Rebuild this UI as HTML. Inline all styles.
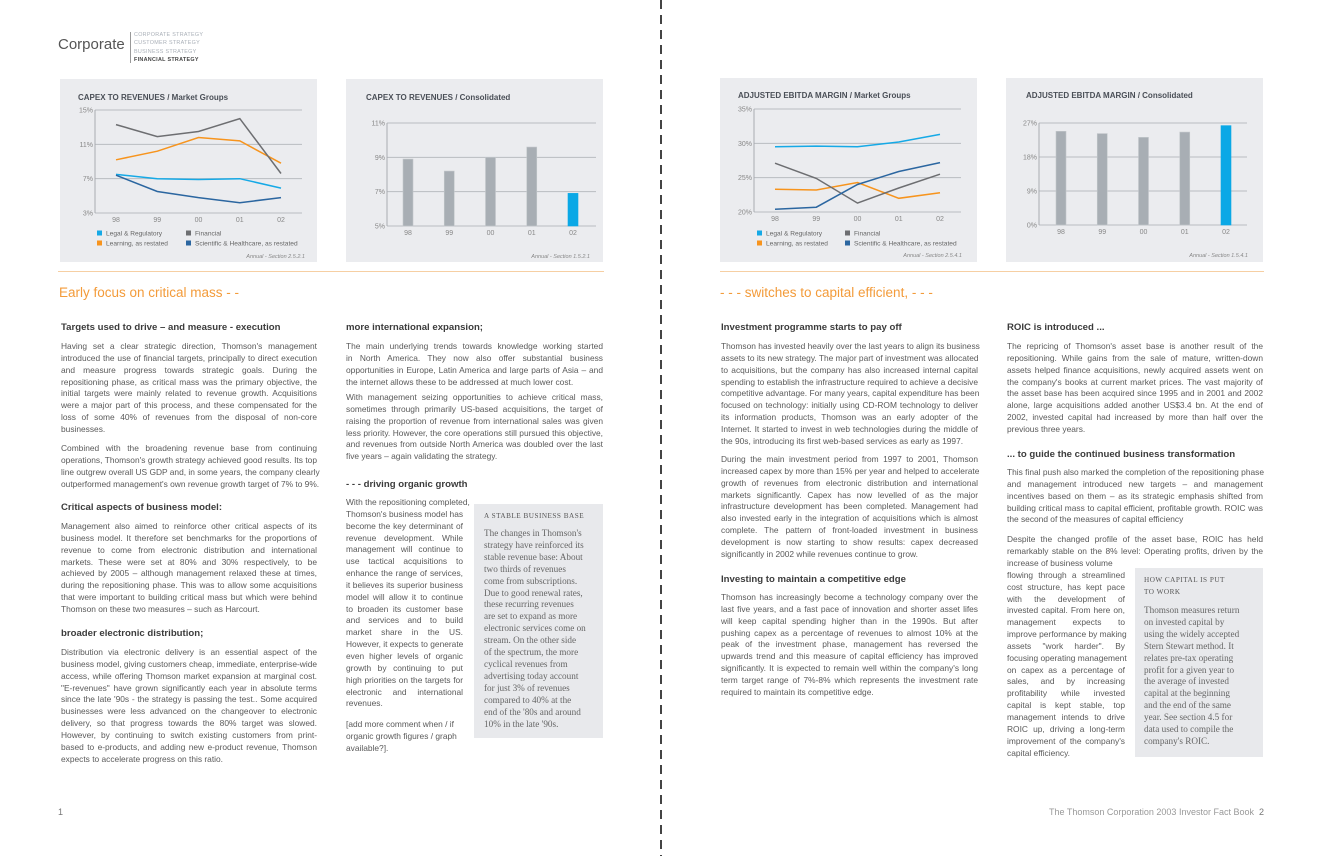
<!DOCTYPE html>
<html><head><meta charset="utf-8">
<style>
*{margin:0;padding:0;box-sizing:border-box}
body{width:1322px;height:856px;background:#fff;position:relative;overflow:hidden;font-family:"Liberation Sans",sans-serif;color:#5a5a5a}
.abs{position:absolute}
.panel{position:absolute;background:#ebecef}
.h{position:absolute;font-size:9.6px;font-weight:bold;color:#3c3c3c;white-space:nowrap}
.p{position:absolute;font-size:8.4px;line-height:11.85px;color:#5a5a5a}
.p div{text-align:justify;text-align-last:justify;white-space:nowrap;overflow:visible;height:11.85px}
.p div.e{text-align-last:left}
.side{position:absolute;background:#e8e9ec;font-family:"Liberation Serif",serif;color:#666}
.side .t{position:absolute;font-size:7.2px;letter-spacing:0.5px;line-height:12px;color:#555}
.side .b{position:absolute;font-size:9.2px;line-height:11.9px;white-space:nowrap}
.orange{position:absolute;font-size:13.5px;color:#f39b3a}
</style></head><body>

<div class="abs" style="left:58px;top:36px;font-size:15px;color:#555">Corporate</div>
<div class="abs" style="left:130px;top:32px;width:1px;height:31px;background:#999"></div>
<div class="abs" style="left:134px;top:31px;font-size:5.4px;line-height:8.3px;color:#aab0b8;letter-spacing:0.3px">
<div>CORPORATE STRATEGY</div>
<div>CUSTOMER STRATEGY</div>
<div>BUSINESS STRATEGY</div>
<div style="color:#444;font-weight:bold">FINANCIAL STRATEGY</div>
</div>

<div class="abs" style="left:660px;top:0;width:2px;height:856px;background:repeating-linear-gradient(to bottom,#444 0,#444 9px,transparent 9px,transparent 15px)"></div>

<div class="panel" style="left:60px;top:79px;width:257px;height:183px"></div>
<div class="panel" style="left:346px;top:79px;width:257px;height:183px"></div>
<div class="panel" style="left:720px;top:78px;width:257px;height:184px"></div>
<div class="panel" style="left:1006px;top:78px;width:257px;height:184px"></div>

<svg id="charts" class="abs" style="left:0;top:0" width="1322" height="856" xmlns="http://www.w3.org/2000/svg"></svg>

<div class="abs" style="left:58px;top:271px;width:546px;height:1px;background:#f6cfa3"></div>
<div class="abs" style="left:720px;top:271px;width:544px;height:1px;background:#f6cfa3"></div>
<div class="orange" style="left:59px;top:285px">Early focus on critical mass - -</div>
<div class="orange" style="left:720px;top:285px">- - - switches to capital efficient, - - -</div>

<!-- left col1 -->
<div class="h" style="left:61px;top:322px">Targets used to drive – and measure - execution</div>
<div class="p" style="left:61px;top:341px;width:256px">
<div>Having set a clear strategic direction, Thomson's management</div>
<div>introduced the use of financial targets, principally to direct execution</div>
<div>and measure progress towards strategic goals. During the</div>
<div>repositioning phase, as critical mass was the primary objective, the</div>
<div>initial targets were mainly related to revenue growth. Acquisitions</div>
<div>were a major part of this process, and these compensated for the</div>
<div>loss of some 40% of revenues from the disposal of non-core</div>
<div class="e">businesses.</div></div>
<div class="p" style="left:61px;top:443px;width:256px">
<div>Combined with the broadening revenue base from continuing</div>
<div>operations, Thomson's growth strategy achieved good results. Its top</div>
<div>line outgrew overall US GDP and, in some years, the company clearly</div>
<div class="e">outperformed management's own revenue growth target of 7% to 9%.</div></div>
<div class="h" style="left:61px;top:502px">Critical aspects of business model:</div>
<div class="p" style="left:61px;top:521px;width:256px">
<div>Management also aimed to reinforce other critical aspects of its</div>
<div>business model. It therefore set benchmarks for the proportions of</div>
<div>revenue to come from electronic distribution and international</div>
<div>markets. These were set at 80% and 30% respectively, to be</div>
<div>achieved by 2005 – although management relaxed these at times,</div>
<div>during the repositioning phase. This was to allow some acquisitions</div>
<div>that were important to building critical mass but which were behind</div>
<div class="e">Thomson on these two measures – such as Harcourt.</div></div>
<div class="h" style="left:61px;top:628px">broader electronic distribution;</div>
<div class="p" style="left:61px;top:647px;width:256px">
<div>Distribution via electronic delivery is an essential aspect of the</div>
<div>business model, giving customers cheap, immediate, enterprise-wide</div>
<div>access, while offering Thomson market expansion at marginal cost.</div>
<div>"E-revenues" have grown significantly each year in absolute terms</div>
<div>since the late '90s - the strategy is passing the test.. Some acquired</div>
<div>businesses were less advanced on the changeover to electronic</div>
<div>delivery, so that progress towards the 80% target was slowed.</div>
<div>However, by continuing to switch existing customers from print-</div>
<div>based to e-products, and adding new e-product revenue, Thomson</div>
<div class="e">expects to accelerate progress on this ratio.</div></div>

<!-- left col2 -->
<div class="h" style="left:346px;top:322px">more international expansion;</div>
<div class="p" style="left:346px;top:341px;width:257px">
<div>The main underlying trends towards knowledge working started</div>
<div>in North America. They now also offer substantial business</div>
<div>opportunities in Europe, Latin America and large parts of Asia – and</div>
<div class="e">the internet allows these to be addressed at much lower cost.</div></div>
<div class="p" style="left:346px;top:392px;width:257px">
<div>With management seizing opportunities to achieve critical mass,</div>
<div>sometimes through primarily US-based acquisitions, the target of</div>
<div>raising the proportion of revenue from international sales was given</div>
<div>less priority. However, the core operations still pursued this objective,</div>
<div>and revenues from outside North America was doubled over the last</div>
<div class="e">five years – again validating the strategy.</div></div>
<div class="h" style="left:346px;top:479px">- - - driving organic growth</div>
<div class="p" style="left:346px;top:497px;width:117px">
<div>With the repositioning completed,</div>
<div>Thomson's business model has</div>
<div>become the key determinant of</div>
<div>revenue development. While</div>
<div>management will continue to</div>
<div>use tactical acquisitions to</div>
<div>enhance the range of services,</div>
<div>it believes its superior business</div>
<div>model will allow it to continue</div>
<div>to broaden its customer base</div>
<div>and services and to build</div>
<div>market share in the US.</div>
<div>However, it expects to generate</div>
<div>even higher levels of organic</div>
<div>growth by continuing to put</div>
<div>high priorities on the targets for</div>
<div>electronic and international</div>
<div class="e">revenues.</div></div>
<div class="p" style="left:346px;top:719px;width:117px">
<div class="e">[add more comment when / if</div>
<div class="e">organic growth figures / graph</div>
<div class="e">available?].</div></div>
<div class="side" style="left:474px;top:504px;width:129px;height:234px">
<div class="t" style="left:10px;top:6px">A STABLE BUSINESS BASE</div>
<div class="b" style="left:10px;top:24px">The changes in Thomson's<br>strategy have reinforced its<br>stable revenue base: About<br>two thirds of revenues<br>come from subscriptions.<br>Due to good renewal rates,<br>these recurring revenues<br>are set to expand as more<br>electronic services come on<br>stream. On the other side<br>of the spectrum, the more<br>cyclical revenues from<br>advertising today account<br>for just 3% of revenues<br>compared to 40% at the<br>end of the '80s and around<br>10% in the late '90s.</div></div>

<!-- right col1 -->
<div class="h" style="left:721px;top:322px">Investment programme starts to pay off</div>
<div class="p" style="left:721px;top:341px;width:257px">
<div>Thomson has invested heavily over the last years to align its business</div>
<div>assets to its new strategy. The major part of investment was allocated</div>
<div>to acquisitions, but the company has also increased internal capital</div>
<div>spending to establish the infrastructure required to achieve a decisive</div>
<div>competitive advantage. For many years, capital expenditure has been</div>
<div>focused on technology: initially using CD-ROM technology to deliver</div>
<div>its information products, Thomson was an early adopter of the</div>
<div>Internet. It started to invest in web technologies during the middle of</div>
<div class="e">the 90s, introducing its first web-based services as early as 1997.</div></div>
<div class="p" style="left:721px;top:454px;width:257px">
<div>During the main investment period from 1997 to 2001, Thomson</div>
<div>increased capex by more than 15% per year and helped to accelerate</div>
<div>growth of revenues from electronic distribution and international</div>
<div>markets significantly. Capex has now levelled of as the major</div>
<div>infrastructure development has been completed. Management had</div>
<div>also invested early in the integration of acquisitions which is almost</div>
<div>complete. The pattern of front-loaded investment in business</div>
<div>development is now starting to show results: capex decreased</div>
<div class="e">significantly in 2002 while revenues continue to grow.</div></div>
<div class="h" style="left:721px;top:574px">Investing to maintain a competitive edge</div>
<div class="p" style="left:721px;top:592px;width:257px">
<div>Thomson has increasingly become a technology company over the</div>
<div>last five years, and a fast pace of innovation and shorter asset lifes</div>
<div>will keep capital spending higher than in the 1990s. But after</div>
<div>pushing capex as a percentage of revenues to almost 10% at the</div>
<div>peak of the investment phase, management has reversed the</div>
<div>upwards trend and this measure of capital efficiency has improved</div>
<div>significantly. It is expected to remain well within the company's long</div>
<div>term target range of 7%-8% which represents the investment rate</div>
<div class="e">required to maintain its competitive edge.</div></div>

<!-- right col2 -->
<div class="h" style="left:1007px;top:322px">ROIC is introduced ...</div>
<div class="p" style="left:1007px;top:341px;width:256px">
<div>The repricing of Thomson's asset base is another result of the</div>
<div>repositioning. While gains from the sale of mature, written-down</div>
<div>assets helped finance acquisitions, newly acquired assets went on</div>
<div>the company's books at current market prices. The vast majority of</div>
<div>the asset base has been acquired since 1995 and in 2001 and 2002</div>
<div>alone, large acquisitions added another US$3.4 bn. At the end of</div>
<div>2002, invested capital had increased by more than half over the</div>
<div class="e">previous three years.</div></div>
<div class="h" style="left:1007px;top:449px">... to guide the continued business transformation</div>
<div class="p" style="left:1007px;top:467px;width:256px">
<div>This final push also marked the completion of the repositioning phase</div>
<div>and management introduced new targets – and management</div>
<div>incentives based on them – as its strategic emphasis shifted from</div>
<div>building critical mass to capital efficient, profitable growth. ROIC was</div>
<div class="e">the second of the measures of capital efficiency</div></div>
<div class="p" style="left:1007px;top:534px;width:256px">
<div>Despite the changed profile of the asset base, ROIC has held</div>
<div>remarkably stable on the 8% level: Operating profits, driven by the</div></div>
<div class="p" style="left:1007px;top:558px;width:118px">
<div class="e">increase of business volume</div>
<div>flowing through a streamlined</div>
<div>cost structure, has kept pace</div>
<div>with the development of</div>
<div>invested capital. From here on,</div>
<div>management expects to</div>
<div>improve performance by making</div>
<div>assets "work harder". By</div>
<div>focusing operating management</div>
<div>on capex as a percentage of</div>
<div>sales, and by increasing</div>
<div>profitability while invested</div>
<div>capital is kept stable, top</div>
<div>management intends to drive</div>
<div>ROIC up, driving a long-term</div>
<div>improvement of the company's</div>
<div class="e">capital efficiency.</div></div>
<div class="side" style="left:1135px;top:568px;width:128px;height:189px">
<div class="t" style="left:9px;top:6px">HOW CAPITAL IS PUT<br>TO WORK</div>
<div class="b" style="left:9px;top:37px">Thomson measures return<br>on invested capital by<br>using the widely accepted<br>Stern Stewart method. It<br>relates pre-tax operating<br>profit for a given year to<br>the average of invested<br>capital at the beginning<br>and the end of the same<br>year. See section 4.5 for<br>data used to compile the<br>company's ROIC.</div></div>

<div class="abs" style="left:58px;top:807px;font-size:9px;color:#777">1</div>
<div class="abs" style="left:1000px;top:807px;width:264px;text-align:right;font-size:9px;color:#999;white-space:nowrap">The Thomson Corporation 2003 Investor Fact Book&nbsp;&nbsp;<span style="color:#777">2</span></div>

<script>
// ---- data ----
const years = ["98","99","00","01","02"];
const seriesNames = ["Legal & Regulatory","Learning, as restated","Financial","Scientific & Healthcare, as restated"];
const capexTicks = ["15%","11%","7%","3%"];
const capexTickValues = [15,11,7,3];
const capexLegal = [7.5,7.0,6.9,7.0,5.9];
const capexLearning = [9.2,10.2,11.8,11.4,8.8];
const capexFinancial = [13.3,11.9,12.5,14.0,7.6];
const capexScientific = [7.4,5.5,4.8,4.2,4.8];
const capexConsTicks = ["11%","9%","7%","5%"];
const capexConsTickValues = [11,9,7,5];
const capexConsolidated = [8.9,8.2,9.0,9.6,6.9];
const ebitdaTicks = ["35%","30%","25%","20%"];
const ebitdaTickValues = [35,30,25,20];
const ebitdaLegal = [29.5,29.6,29.5,30.2,31.3];
const ebitdaLearning = [23.3,23.2,24.3,22.0,22.8];
const ebitdaFinancial = [27.1,24.9,21.3,23.5,25.5];
const ebitdaScientific = [20.4,20.7,24.0,25.9,27.2];
const ebitdaConsTicks = ["27%","18%","9%","0%"];
const ebitdaConsTickValues = [27,18,9,0];
const ebitdaConsolidated = [24.8,24.2,23.2,24.6,26.3];

const colors = ["#15a9e6","#f7941d","#6d6e71","#2b66a0"];
const NS = "http://www.w3.org/2000/svg";
const svg = document.getElementById("charts");
function mk(tag, attrs, text){
  const e = document.createElementNS(NS, tag);
  for (const k in attrs) e.setAttribute(k, attrs[k]);
  if (text !== undefined) e.textContent = text;
  svg.appendChild(e);
  return e;
}
function frame(c, ticks, tickVals){
  const t = mk("text",{x:c.tx,y:c.ty,"font-family":"Liberation Sans Narrow, Liberation Sans, sans-serif","font-size":8,"font-weight":"bold",fill:"#4a4f57"},c.title);
  
  
  const yS = v => c.y1 + (c.vmax - v) / (c.vmax - c.vmin) * (c.y0 - c.y1);
  tickVals.forEach((v,i)=>{
    const g = mk("line",{x1:c.l,x2:c.r,y1:yS(v),y2:yS(v),stroke:"#b9bcc1","stroke-width":1});
    
    
    const lb = mk("text",{x:c.l-2,y:yS(v)+2.5,"text-anchor":"end","font-size":7,fill:"#888","font-family":"Liberation Sans Narrow, Liberation Sans, sans-serif"},ticks[i]);
    
    
  });
  const ax = mk("line",{x1:c.l,x2:c.l,y1:c.y1,y2:c.y0,stroke:"#a8abb0","stroke-width":1});
  
  
  const xS = i => c.x0 + i * (c.x4 - c.x0) / (years.length - 1);
  years.forEach((y,i)=>{
    const lb = mk("text",{x:xS(i),y:c.y0+9,"text-anchor":"middle","font-size":7,fill:"#888","font-family":"Liberation Sans Narrow, Liberation Sans, sans-serif"},y);
    
    
  });
  const src = mk("text",{x:c.sx,y:c.sy,"text-anchor":"end","font-size":5.5,"font-style":"italic",fill:"#888"},c.source);
  
  
  return {xS, yS};
}
function lineChart(c, ticks, tickVals, series){
  const {xS,yS} = frame(c, ticks, tickVals);
  series.forEach((s,k)=>{
    const pts = s.map((v,i)=>xS(i).toFixed(1)+","+yS(v).toFixed(1)).join(" ");
    const pl = mk("polyline",{points:pts,fill:"none",stroke:colors[k],"stroke-width":1.5});
    
    
  });
  seriesNames.forEach((n,k)=>{
    const order = [0,2,1,3][k];
    const rx = (order % 2 === 0) ? c.lgx : c.lgx2;
    const ry = (order < 2) ? c.lgy : c.lgy + 10;
    const sw = mk("rect",{x:rx,y:ry-4.5,width:5,height:5,fill:colors[k]});
    
    
    const tx = mk("text",{x:rx+9,y:ry+0.5,"font-size":6.6,fill:"#666","font-family":"Liberation Sans Narrow, Liberation Sans, sans-serif"},n);
    
    
  });
}
function barChart(c, ticks, tickVals, values){
  const {xS,yS} = frame(c, ticks, tickVals);
  values.forEach((v,i)=>{
    const last = i === values.length - 1;
    const b = mk("rect",{x:xS(i)-5,y:yS(v),width:10,height:c.y0-yS(v),fill:last?"#0aa8e6":"#a8aeb4",stroke:last?"#0aa8e6":"#c3c7cb","stroke-width":0.6});
    
    
  });
}
lineChart({id:"capex-mg",title:"CAPEX TO REVENUES / Market Groups",tx:78,ty:100,l:95,r:302,y1:110,y0:213,vmax:15,vmin:3,x0:116,x4:281,lgx:97,lgx2:186,lgy:235,sx:305,sy:258,source:"Annual - Section 2.5.2.1"},
  capexTicks, capexTickValues, [capexLegal,capexLearning,capexFinancial,capexScientific]);
barChart({id:"capex-cons",title:"CAPEX TO REVENUES / Consolidated",tx:366,ty:100,l:387,r:596,y1:123,y0:226,vmax:11,vmin:5,x0:408,x4:573,sx:590,sy:258,source:"Annual - Section 1.5.2.1"},
  capexConsTicks, capexConsTickValues, capexConsolidated);
lineChart({id:"ebitda-mg",title:"ADJUSTED EBITDA MARGIN / Market Groups",tx:738,ty:98,l:754,r:961,y1:109,y0:212,vmax:35,vmin:20,x0:775,x4:940,lgx:757,lgx2:845,lgy:235,sx:962,sy:257,source:"Annual - Section 2.5.4.1"},
  ebitdaTicks, ebitdaTickValues, [ebitdaLegal,ebitdaLearning,ebitdaFinancial,ebitdaScientific]);
barChart({id:"ebitda-cons",title:"ADJUSTED EBITDA MARGIN / Consolidated",tx:1026,ty:98,l:1039,r:1247,y1:123,y0:225,vmax:27,vmin:0,x0:1061,x4:1226,sx:1248,sy:257,source:"Annual - Section 1.5.4.1"},
  ebitdaConsTicks, ebitdaConsTickValues, ebitdaConsolidated);
</script>
</body></html>
